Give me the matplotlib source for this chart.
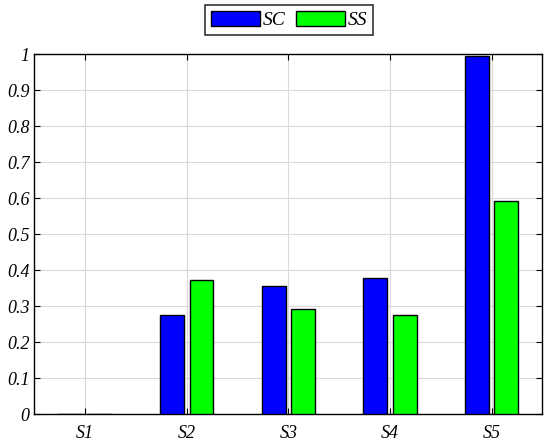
import numpy as np
import matplotlib
matplotlib.use("Agg")
import matplotlib.pyplot as plt

categories = ["S1", "S2", "S3", "S4", "S5"]
sc_values = [0.0, 0.276, 0.357, 0.379, 0.994]
ss_values = [0.0, 0.373, 0.293, 0.275, 0.592]
yticks = [0, 0.1, 0.2, 0.3, 0.4, 0.5, 0.6, 0.7, 0.8, 0.9, 1]
ytick_labels = ["0", "0.1", "0.2", "0.3", "0.4", "0.5", "0.6", "0.7", "0.8", "0.9", "1"]

plt.rcParams['font.family'] = ['Liberation Serif', 'DejaVu Serif']
plt.rcParams['font.style'] = 'italic'

fig = plt.figure(figsize=(5.5, 4.47), dpi=100)
ax = fig.add_axes([0.0624, 0.0732, 0.9236, 0.8053])

x = np.arange(1, len(categories) + 1)
w = 0.235
ax.bar(x - 0.145, sc_values, width=w, color=(0, 0, 1), edgecolor='black', linewidth=1, label='SC', zorder=3)
ax.bar(x + 0.145, ss_values, width=w, color=(0, 1, 0), edgecolor='black', linewidth=1, label='SS', zorder=3)

ax.set_xlim(0.5, 5.5)
ax.set_ylim(0, 1)
ax.set_xticks(x)
ax.set_xticklabels(categories, fontsize=13, style='italic')
ax.set_yticks(yticks)
ax.set_yticklabels(ytick_labels, fontsize=13, style='italic')

ax.grid(True, color='#d9d9d9', linewidth=0.8, zorder=0)
ax.set_axisbelow(True)
ax.tick_params(direction='in', top=True, right=True, length=4, width=0.8)
ax.tick_params(axis='y', pad=3.5)
ax.tick_params(axis='x', pad=8)
for s in ax.spines.values():
    s.set_linewidth(1.0)

leg = ax.legend(loc='lower center', bbox_to_anchor=(0.502, 1.054), ncol=2,
                frameon=True, fancybox=False, edgecolor='black', handlelength=2.5,
                handleheight=0.85, handletextpad=0.15, columnspacing=0.55, borderpad=0.3,
                borderaxespad=0,
                prop={'family': 'Liberation Serif', 'style': 'italic', 'size': 14})
leg.get_frame().set_linewidth(1.2)

fig.savefig("out.png", dpi=100)
